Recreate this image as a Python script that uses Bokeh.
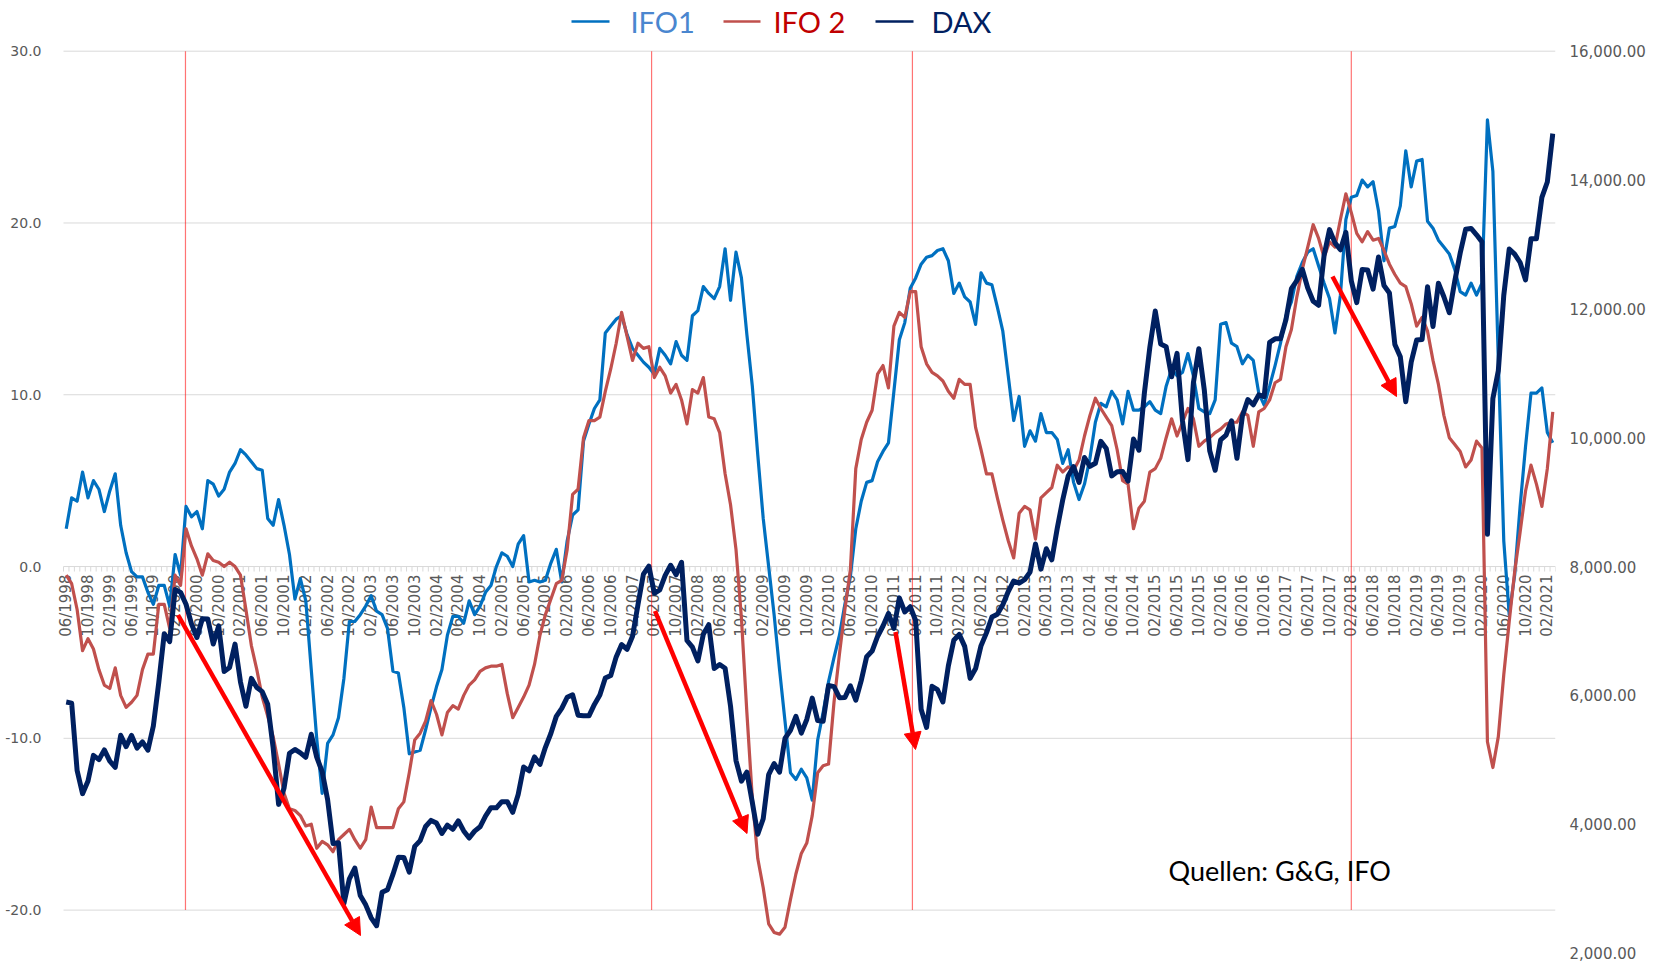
import math
from bokeh.plotting import figure
from bokeh.models import Range1d, LinearAxis, FixedTicker, NumeralTickFormatter, Arrow, NormalHead
from bokeh.core.properties import value
from bokeh.embed import file_html
from bokeh.resources import INLINE

# ---------------- data (monthly, 06/1998 .. 03/2021) ----------------
start_year, start_month = 1998, 6

ifo1_1998 = [2.2, 4.0, 3.8, 5.5, 4.0, 5.0, 4.5]
ifo1_1999 = [3.2, 4.4, 5.4, 2.4, 0.8, -0.3, -0.6, -0.6, -1.5, -2.2, -1.1, -1.1]
ifo1_2000 = [-2.3, 0.7, -0.5, 3.5, 2.9, 3.2, 2.2, 5.0, 4.8, 4.1, 4.5, 5.5]
ifo1_2001 = [6.0, 6.8, 6.5, 6.1, 5.7, 5.6, 2.8, 2.4, 3.9, 2.4, 0.7, -1.9]
ifo1_2002 = [-0.7, -2.0, -6.0, -10.0, -13.2, -10.3, -9.8, -8.8, -6.5, -3.2, -3.2, -2.8]
ifo1_2003 = [-2.3, -1.7, -2.6, -2.8, -3.6, -6.1, -6.2, -8.2, -10.9, -10.8, -10.7, -9.5]
ifo1_2004 = [-8.2, -7.0, -6.0, -4.0, -2.9, -2.9, -3.3, -2.0, -2.8, -2.3, -1.5, -1.1]
ifo1_2005 = [0.0, 0.8, 0.6, 0.0, 1.3, 1.8, -0.9, -0.8, -0.9, -0.8, 0.2, 1.0]
ifo1_2006 = [-0.9, 1.5, 3.0, 3.3, 7.3, 8.3, 9.2, 9.7, 13.6, 14.0, 14.4, 14.6]
ifo1_2007 = [13.5, 12.7, 12.3, 11.9, 11.6, 11.2, 12.7, 12.3, 11.8, 13.1, 12.3, 12.0]
ifo1_2008 = [14.6, 14.9, 16.3, 15.9, 15.6, 16.3, 18.5, 15.5, 18.3, 16.8, 13.5, 10.5]
ifo1_2009 = [6.5, 2.8, 0.0, -2.8, -6.0, -9.0, -12.0, -12.4, -11.8, -12.3, -13.6, -10.1]
ifo1_2010 = [-8.5, -6.7, -5.3, -4.0, -2.2, -0.6, 2.2, 3.8, 4.9, 5.0, 6.1, 6.7]
ifo1_2011 = [7.2, 10.2, 13.2, 14.2, 16.2, 16.8, 17.6, 18.0, 18.1, 18.4, 18.5, 17.8]
ifo1_2012 = [15.9, 16.5, 15.7, 15.4, 14.1, 17.1, 16.5, 16.4, 15.1, 13.7, 11.1, 8.5]
ifo1_2013 = [9.9, 7.0, 7.9, 7.3, 8.9, 7.8, 7.8, 7.4, 6.0, 6.8, 4.9, 3.9]
ifo1_2014 = [4.8, 6.3, 8.4, 9.5, 9.3, 10.2, 9.7, 8.3, 10.2, 9.1, 9.1, 9.3]
ifo1_2015 = [9.6, 9.1, 8.9, 10.5, 11.5, 11.1, 11.3, 12.4, 11.1, 9.2, 9.0, 8.9]
ifo1_2016 = [9.7, 14.1, 14.2, 13.0, 12.8, 11.8, 12.3, 12.0, 10.1, 9.4, 10.5, 11.7]
ifo1_2017 = [13.0, 14.6, 15.4, 16.9, 17.7, 18.3, 18.5, 17.5, 16.5, 15.6, 13.6, 15.8]
ifo1_2018 = [20.2, 21.5, 21.6, 22.5, 22.1, 22.4, 20.7, 17.8, 19.7, 19.8, 21.0, 24.2]
ifo1_2019 = [22.1, 23.6, 23.7, 20.1, 19.7, 19.0, 18.6, 18.2, 17.3, 16.0, 15.8, 16.5]
ifo1_2020 = [15.8, 16.5, 26.0, 23.0, 12.0, 1.5, -2.8, -0.5, 3.5, 7.0, 10.1, 10.1]
ifo1_2021 = [10.4, 7.8, 7.2]

ifo2_1998 = [-0.5, -1.0, -2.5, -4.9, -4.2, -4.8, -6.0]
ifo2_1999 = [-6.9, -7.1, -5.9, -7.5, -8.2, -7.9, -7.5, -6.0, -5.1, -5.1, -2.2, -2.2]
ifo2_2000 = [-3.6, -0.5, -1.1, 2.2, 1.2, 0.45, -0.5, 0.74, 0.35, 0.25, 0.0, 0.25]
ifo2_2001 = [0.0, -0.5, -2.5, -4.6, -6.0, -7.6, -8.7, -9.9, -11.5, -13.2, -14.1, -14.2]
ifo2_2002 = [-14.5, -15.1, -15.0, -16.4, -16.0, -16.2, -16.6, -15.9, -15.6, -15.3, -15.9, -16.4]
ifo2_2003 = [-15.9, -14.0, -15.2, -15.2, -15.2, -15.2, -14.1, -13.7, -12.0, -10.1, -9.7, -9.0]
ifo2_2004 = [-7.8, -8.6, -9.8, -8.5, -8.1, -8.3, -7.5, -6.9, -6.6, -6.1, -5.9, -5.8]
ifo2_2005 = [-5.8, -5.7, -7.4, -8.8, -8.2, -7.6, -6.9, -5.7, -4.0, -2.8, -1.9, -1.0]
ifo2_2006 = [-0.8, 1.0, 4.2, 4.5, 7.5, 8.5, 8.5, 8.7, 10.2, 11.5, 13.0, 14.8]
ifo2_2007 = [13.4, 12.0, 13.0, 12.7, 12.8, 11.0, 11.6, 11.1, 10.1, 10.6, 9.7, 8.3]
ifo2_2008 = [10.3, 10.1, 11.0, 8.7, 8.6, 7.8, 5.4, 3.6, 1.0, -3.0, -8.5, -13.5]
ifo2_2009 = [-17.0, -18.7, -20.8, -21.3, -21.4, -21.0, -19.4, -17.9, -16.7, -16.1, -14.5, -12.0]
ifo2_2010 = [-11.6, -11.5, -7.9, -5.1, -2.5, -0.2, 5.7, 7.4, 8.4, 9.1, 11.2, 11.7]
ifo2_2011 = [10.4, 14.0, 14.8, 14.5, 16.0, 16.0, 12.8, 11.8, 11.3, 11.1, 10.8, 10.2]
ifo2_2012 = [9.8, 10.9, 10.6, 10.6, 8.1, 6.8, 5.4, 5.4, 4.0, 2.7, 1.5, 0.5]
ifo2_2013 = [3.1, 3.5, 3.3, 1.6, 4.0, 4.3, 4.6, 5.9, 5.5, 5.8, 5.6, 6.2]
ifo2_2014 = [7.6, 8.8, 9.8, 9.2, 8.7, 8.2, 6.8, 5.0, 4.8, 2.2, 3.4, 3.8]
ifo2_2015 = [5.5, 5.7, 6.3, 7.5, 8.6, 7.6, 8.4, 9.2, 8.6, 7.0, 7.3, 7.5]
ifo2_2016 = [7.8, 8.0, 8.3, 8.4, 8.4, 9.0, 8.8, 7.0, 9.0, 9.2, 9.7, 10.7]
ifo2_2017 = [10.9, 12.8, 13.8, 15.7, 17.3, 18.6, 19.9, 19.1, 18.0, 18.9, 18.6, 20.2]
ifo2_2018 = [21.7, 20.6, 19.4, 18.9, 19.5, 19.0, 19.1, 18.4, 17.6, 17.0, 16.5, 16.3]
ifo2_2019 = [15.3, 14.0, 14.5, 13.7, 12.0, 10.6, 8.8, 7.5, 7.1, 6.7, 5.8, 6.2]
ifo2_2020 = [7.3, 6.9, -10.2, -11.7, -9.9, -6.3, -3.2, -0.3, 2.0, 4.4, 5.9, 4.8]
ifo2_2021 = [3.5, 5.7, 9.0]

dax_1998 = [5897, 5880, 4834, 4474, 4671, 5069, 5002]
dax_1999 = [5154, 4979, 4884, 5380, 5205, 5379, 5181, 5278, 5150, 5525, 6201, 6958]
dax_2000 = [6835, 7644, 7599, 7414, 7109, 6899, 7190, 7186, 6798, 7078, 6372, 6434]
dax_2001 = [6795, 6208, 5830, 6264, 6123, 6058, 5862, 5188, 4308, 4560, 5102, 5160]
dax_2002 = [5108, 5039, 5397, 5041, 4818, 4383, 3700, 3712, 2769, 3153, 3320, 2893]
dax_2003 = [2748, 2547, 2424, 2942, 2983, 3221, 3487, 3485, 3257, 3656, 3745, 3965]
dax_2004 = [4059, 4018, 3856, 3985, 3921, 4053, 3896, 3785, 3893, 3960, 4126, 4256]
dax_2005 = [4254, 4350, 4349, 4185, 4461, 4887, 4829, 5044, 4929, 5193, 5408, 5674]
dax_2006 = [5797, 5970, 6009, 5693, 5683, 5682, 5860, 6005, 6269, 6309, 6597, 6789]
dax_2007 = [6716, 6917, 7409, 7883, 8007, 7584, 7638, 7862, 8020, 7871, 8067, 6852]
dax_2008 = [6748, 6535, 6949, 7097, 6418, 6480, 6422, 5831, 4988, 4669, 4810, 4338]
dax_2009 = [3844, 4085, 4770, 4941, 4809, 5332, 5458, 5675, 5415, 5626, 5957, 5608]
dax_2010 = [5598, 6154, 6136, 5964, 5966, 6148, 5925, 6229, 6601, 6688, 6914, 7077]
dax_2011 = [7272, 7041, 7514, 7294, 7376, 7159, 5785, 5502, 6141, 6089, 5898, 6458]
dax_2012 = [6856, 6947, 6761, 6264, 6416, 6772, 6970, 7216, 7260, 7406, 7612, 7776]
dax_2013 = [7742, 7795, 7914, 8349, 7959, 8276, 8104, 8594, 9033, 9406, 9552, 9306]
dax_2014 = [9692, 9556, 9603, 9943, 9833, 9407, 9470, 9474, 9327, 9980, 9806, 10694]
dax_2015 = [11402, 11966, 11454, 11413, 10945, 11309, 10259, 9660, 10850, 11382, 10743, 9798]
dax_2016 = [9495, 9966, 10039, 10263, 9680, 10337, 10593, 10511, 10665, 10640, 11481, 11535]
dax_2017 = [11535, 11834, 12313, 12438, 12615, 12325, 12118, 12056, 12829, 13230, 13024, 12918]
dax_2018 = [13189, 12436, 12097, 12612, 12605, 12306, 12806, 12364, 12247, 11448, 11257, 10559]
dax_2019 = [11173, 11516, 11526, 12344, 11727, 12399, 12189, 11939, 12428, 12867, 13236, 13249]
dax_2020 = [13150, 13040, 8500, 10610, 11040, 12210, 12930, 12850, 12720, 12450, 13090, 13090]
dax_2021 = [13730, 13970, 14720]

years = list(range(1998, 2022))
ifo1 = sum((globals()[f"ifo1_{y}"] for y in years), [])
ifo2 = sum((globals()[f"ifo2_{y}"] for y in years), [])
dax = sum((globals()[f"dax_{y}"] for y in years), [])
n = len(dax)
idx = list(range(n))
month_labels = [f"{(start_month - 1 + i) % 12 + 1:02d}/{start_year + (start_month - 1 + i) // 12}" for i in range(n)]

left_ticks = [-20, -10, 0, 10, 20, 30]
right_ticks = list(range(2000, 16001, 2000))
marker_months = [21.9, 107.5, 155.4, 236.0]   # red vertical marker lines (month index)

# ---------------- geometry ----------------
W, H = 1655, 962
PLOT_LEFT = 63            # page pixel where the category area starts
ML, MR = 50, 100          # frame a little wider on the left so the first label is not clipped
px_x = (W - PLOT_LEFT - MR) / n
x_start = -0.5 - (PLOT_LEFT - ML) / px_x
Y30, YM20 = 50.7, 909.6                      # page-pixel rows of +30 and -20
px_y = (YM20 - Y30) / 50.0
ytop = 30 + Y30 / px_y
ybot = ytop - H / px_y
to_dax = lambda v: 8000 + v * (8000 / 30)

def X(px):
    return -0.5 + (px - PLOT_LEFT) / px_x

def Y(py):
    return ytop - py / px_y

p = figure(width=W, height=H, x_range=Range1d(x_start, n - 0.5), y_range=Range1d(ybot, ytop),
           x_axis_type=None, y_axis_type=None, output_backend="svg", toolbar_location=None,
           min_border_left=ML, min_border_right=MR, min_border_top=0, min_border_bottom=0)
p.outline_line_color = None
p.background_fill_color = "white"
p.border_fill_color = "white"
p.extra_y_ranges = {"dax": Range1d(to_dax(ybot), to_dax(ytop))}

# horizontal gridlines across the category area
gl = [t for t in left_ticks if t != 0]
p.segment(x0=[-0.5] * len(gl), y0=gl, x1=[n - 0.5] * len(gl), y1=gl,
          line_color="#D9D9D9", line_width=1)

lab_font = "DejaVu Sans"
yl = LinearAxis(ticker=FixedTicker(ticks=left_ticks), formatter=NumeralTickFormatter(format="0.0"))
yr = LinearAxis(y_range_name="dax", ticker=FixedTicker(ticks=right_ticks),
                formatter=NumeralTickFormatter(format="0,0.00"))
for ax, so, fs in ((yl, 16 - (PLOT_LEFT - ML), "14px"), (yr, 8, "15px")):
    ax.axis_line_color = None
    ax.major_tick_line_color = None
    ax.minor_tick_line_color = None
    ax.major_label_standoff = so
    ax.major_label_text_font = lab_font
    ax.major_label_text_font_size = fs
    ax.major_label_text_color = "#595959"
p.add_layout(yl, "left")
p.add_layout(yr, "right")

# category axis at y = 0
p.segment(x0=[-0.5], y0=[0], x1=[n - 0.5], y1=[0], line_color="#D9D9D9", line_width=1)
bounds = [i - 0.5 for i in range(n + 1)]
tick_len = 5 / px_y
p.segment(x0=bounds, y0=[0] * len(bounds), x1=bounds, y1=[-tick_len] * len(bounds),
          line_color="#D9D9D9", line_width=1)
lab_idx = idx[::4]
p.text(x=lab_idx, y=[-8 / px_y] * len(lab_idx), text=[month_labels[i] for i in lab_idx],
       angle=math.pi / 2, text_align="right", text_baseline="middle",
       text_font=value(lab_font), text_font_size="15px", text_color="#595959")

# marker lines
p.segment(x0=marker_months, y0=[-20] * 4, x1=marker_months, y1=[30] * 4,
          line_color="#FF0000", line_alpha=0.55, line_width=1.2)

# series
c1, c2, c3 = "#0070C0", "#C0504D", "#002060"
p.line(idx, ifo1, line_color=c1, line_width=3.2, line_join="round")
p.line(idx, ifo2, line_color=c2, line_width=3.2, line_join="round")
p.line(idx, dax, y_range_name="dax", line_color=c3, line_width=5, line_join="round")

# arrows (page-pixel positions of tail and head)
arrows = [((177.5, 614.5), (360, 935)), ((654.5, 610.5), (746.5, 833)),
          ((895, 631.5), (915, 749)), ((1332, 276), (1396, 396))]
for (x0, y0), (x1, y1) in arrows:
    p.add_layout(Arrow(end=NormalHead(size=17, fill_color="#FF0000", line_color="#FF0000"),
                       x_start=X(x0), y_start=Y(y0), x_end=X(x1), y_end=Y(y1),
                       line_color="#FF0000", line_width=4.5))

# legend
leg_y = Y(21)
sw = [(571, 609), (723, 760), (875, 913)]
p.segment(x0=[X(a) for a, b in sw], y0=[leg_y] * 3, x1=[X(b) for a, b in sw], y1=[leg_y] * 3,
          line_color=[c1, c2, c3], line_width=2.5)
p.text(x=[X(630), X(773), X(931)], y=[leg_y] * 3, text=["IFO1", "IFO 2", "DAX"],
       text_color=["#4A86CF", "#C00000", "#002060"], text_baseline="middle",
       text_font=value("Lato"), text_font_size="29px")

p.text(x=[X(1168)], y=[Y(870)], text=["Quellen: G&G, IFO"], text_baseline="middle",
       text_color="#000000", text_font=value("Lato"), text_font_size="27px")

open("out.html", "w").write(file_html(p, INLINE))
